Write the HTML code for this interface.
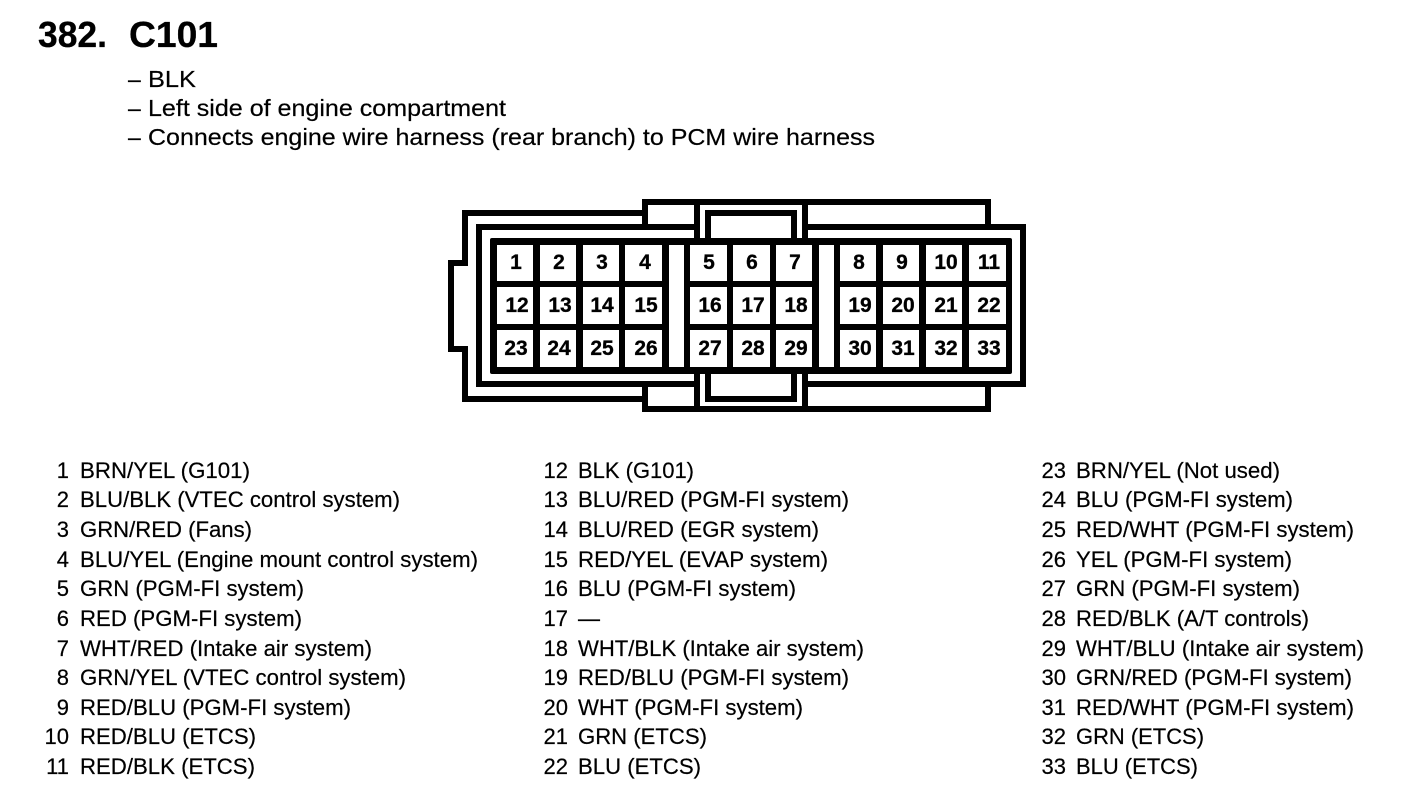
<!DOCTYPE html>
<html><head><meta charset="utf-8"><style>
html,body{margin:0;padding:0;background:#fff}
svg{display:block}
text{font-family:"Liberation Sans",sans-serif;fill:#000;stroke:#000;stroke-width:.2px}
.t{font-size:22px}
.n{font-size:22px;text-anchor:end}
.c{font-size:21px;font-weight:bold;text-anchor:middle;stroke-width:.3px}
.h{font-size:36px;font-weight:bold;stroke-width:.3px}
.s{font-size:23px}
</style></head><body>
<svg width="1408" height="798" viewBox="0 0 1408 798" xmlns="http://www.w3.org/2000/svg">
<rect width="1408" height="798" fill="#fff"/>
<text class="h" x="38" y="47" textLength="69" lengthAdjust="spacingAndGlyphs">382.</text>
<text class="h" x="129" y="47" textLength="89" lengthAdjust="spacingAndGlyphs">C101</text>
<text class="s" x="128" y="87">–</text><text class="s" x="148" y="87" textLength="48" lengthAdjust="spacingAndGlyphs">BLK</text>
<text class="s" x="128" y="116">–</text><text class="s" x="148" y="116" textLength="358" lengthAdjust="spacingAndGlyphs">Left side of engine compartment</text>
<text class="s" x="128" y="145">–</text><text class="s" x="148" y="145" textLength="727" lengthAdjust="spacingAndGlyphs">Connects engine wire harness (rear branch) to PCM wire harness</text>

<!-- connector outlines -->
<g fill="none" stroke="#000" stroke-width="6" stroke-linejoin="miter">
<path d="M645 213H465V263H451V349H465V399H645"/>
<path d="M697 227H479V384H697"/>
<path d="M805 227H1023V384H805"/>
<path d="M645 230V202H988V227"/>
<path d="M645 381V409H988V384"/>
<path d="M697 202V241M805 202V241M697 370V409M805 370V409"/>
<path d="M708 241V213H794V241"/>
<path d="M708 370V399H794V370"/>
</g>
<rect x="490" y="238" width="522" height="136" rx="2" fill="#000" style="stroke:none"/>
<g fill="#fff">
<rect x="497" y="245" width="36" height="36"/><rect x="540" y="245" width="36" height="36"/><rect x="583" y="245" width="36" height="36"/><rect x="625" y="245" width="37" height="36"/>
<rect x="690" y="245" width="37" height="36"/><rect x="733" y="245" width="37" height="36"/><rect x="776" y="245" width="36" height="36"/>
<rect x="840" y="245" width="36" height="36"/><rect x="883" y="245" width="36" height="36"/><rect x="926" y="245" width="36" height="36"/><rect x="969" y="245" width="37" height="36"/>
<rect x="497" y="287" width="36" height="37"/><rect x="540" y="287" width="36" height="37"/><rect x="583" y="287" width="36" height="37"/><rect x="625" y="287" width="37" height="37"/>
<rect x="690" y="287" width="37" height="37"/><rect x="733" y="287" width="37" height="37"/><rect x="776" y="287" width="36" height="37"/>
<rect x="840" y="287" width="36" height="37"/><rect x="883" y="287" width="36" height="37"/><rect x="926" y="287" width="36" height="37"/><rect x="969" y="287" width="37" height="37"/>
<rect x="497" y="330" width="36" height="37"/><rect x="540" y="330" width="36" height="37"/><rect x="583" y="330" width="36" height="37"/><rect x="625" y="330" width="37" height="37"/>
<rect x="690" y="330" width="37" height="37"/><rect x="733" y="330" width="37" height="37"/><rect x="776" y="330" width="36" height="37"/>
<rect x="840" y="330" width="36" height="37"/><rect x="883" y="330" width="36" height="37"/><rect x="926" y="330" width="36" height="37"/><rect x="969" y="330" width="37" height="37"/>
<rect x="669" y="245" width="15" height="122"/><rect x="819" y="245" width="15" height="122"/>
</g>
<g>
<text class="c" x="516" y="269">1</text><text class="c" x="559" y="269">2</text><text class="c" x="602" y="269">3</text><text class="c" x="645" y="269">4</text><text class="c" x="709" y="269">5</text><text class="c" x="752" y="269">6</text><text class="c" x="795" y="269">7</text><text class="c" x="859" y="269">8</text><text class="c" x="902" y="269">9</text><text class="c" x="946" y="269">10</text><text class="c" x="989" y="269">11</text>
<text class="c" x="517" y="312">12</text><text class="c" x="560" y="312">13</text><text class="c" x="602" y="312">14</text><text class="c" x="646" y="312">15</text><text class="c" x="710" y="312">16</text><text class="c" x="753" y="312">17</text><text class="c" x="796" y="312">18</text><text class="c" x="860" y="312">19</text><text class="c" x="903" y="312">20</text><text class="c" x="946" y="312">21</text><text class="c" x="989" y="312">22</text>
<text class="c" x="516" y="355">23</text><text class="c" x="559" y="355">24</text><text class="c" x="602" y="355">25</text><text class="c" x="646" y="355">26</text><text class="c" x="710" y="355">27</text><text class="c" x="753" y="355">28</text><text class="c" x="796" y="355">29</text><text class="c" x="860" y="355">30</text><text class="c" x="903" y="355">31</text><text class="c" x="946" y="355">32</text><text class="c" x="989" y="355">33</text>
</g>

<!-- column 1 -->
<text class="n" x="69" y="478">1</text><text class="t" x="80" y="478" textLength="170" lengthAdjust="spacingAndGlyphs">BRN/YEL (G101)</text>
<text class="n" x="69" y="507">2</text><text class="t" x="80" y="507" textLength="320" lengthAdjust="spacingAndGlyphs">BLU/BLK (VTEC control system)</text>
<text class="n" x="69" y="537">3</text><text class="t" x="80" y="537" textLength="172" lengthAdjust="spacingAndGlyphs">GRN/RED (Fans)</text>
<text class="n" x="69" y="567">4</text><text class="t" x="80" y="567" textLength="398" lengthAdjust="spacingAndGlyphs">BLU/YEL (Engine mount control system)</text>
<text class="n" x="69" y="596">5</text><text class="t" x="80" y="596" textLength="224" lengthAdjust="spacingAndGlyphs">GRN (PGM-FI system)</text>
<text class="n" x="69" y="626">6</text><text class="t" x="80" y="626" textLength="222" lengthAdjust="spacingAndGlyphs">RED (PGM-FI system)</text>
<text class="n" x="69" y="656">7</text><text class="t" x="80" y="656" textLength="292" lengthAdjust="spacingAndGlyphs">WHT/RED (Intake air system)</text>
<text class="n" x="69" y="685">8</text><text class="t" x="80" y="685" textLength="326" lengthAdjust="spacingAndGlyphs">GRN/YEL (VTEC control system)</text>
<text class="n" x="69" y="715">9</text><text class="t" x="80" y="715" textLength="271" lengthAdjust="spacingAndGlyphs">RED/BLU (PGM-FI system)</text>
<text class="n" x="69" y="744">10</text><text class="t" x="80" y="744" textLength="176" lengthAdjust="spacingAndGlyphs">RED/BLU (ETCS)</text>
<text class="n" x="69" y="774">11</text><text class="t" x="80" y="774" textLength="175" lengthAdjust="spacingAndGlyphs">RED/BLK (ETCS)</text>

<!-- column 2 -->
<text class="n" x="568" y="478">12</text><text class="t" x="578" y="478" textLength="116" lengthAdjust="spacingAndGlyphs">BLK (G101)</text>
<text class="n" x="568" y="507">13</text><text class="t" x="578" y="507" textLength="271" lengthAdjust="spacingAndGlyphs">BLU/RED (PGM-FI system)</text>
<text class="n" x="568" y="537">14</text><text class="t" x="578" y="537" textLength="241" lengthAdjust="spacingAndGlyphs">BLU/RED (EGR system)</text>
<text class="n" x="568" y="567">15</text><text class="t" x="578" y="567" textLength="250" lengthAdjust="spacingAndGlyphs">RED/YEL (EVAP system)</text>
<text class="n" x="568" y="596">16</text><text class="t" x="578" y="596" textLength="218" lengthAdjust="spacingAndGlyphs">BLU (PGM-FI system)</text>
<text class="n" x="568" y="626">17</text><text class="t" x="578" y="626">—</text>
<text class="n" x="568" y="656">18</text><text class="t" x="578" y="656" textLength="286" lengthAdjust="spacingAndGlyphs">WHT/BLK (Intake air system)</text>
<text class="n" x="568" y="685">19</text><text class="t" x="578" y="685" textLength="271" lengthAdjust="spacingAndGlyphs">RED/BLU (PGM-FI system)</text>
<text class="n" x="568" y="715">20</text><text class="t" x="578" y="715" textLength="225" lengthAdjust="spacingAndGlyphs">WHT (PGM-FI system)</text>
<text class="n" x="568" y="744">21</text><text class="t" x="578" y="744" textLength="129" lengthAdjust="spacingAndGlyphs">GRN (ETCS)</text>
<text class="n" x="568" y="774">22</text><text class="t" x="578" y="774" textLength="123" lengthAdjust="spacingAndGlyphs">BLU (ETCS)</text>

<!-- column 3 -->
<text class="n" x="1066" y="478">23</text><text class="t" x="1076" y="478" textLength="204" lengthAdjust="spacingAndGlyphs">BRN/YEL (Not used)</text>
<text class="n" x="1066" y="507">24</text><text class="t" x="1076" y="507" textLength="217" lengthAdjust="spacingAndGlyphs">BLU (PGM-FI system)</text>
<text class="n" x="1066" y="537">25</text><text class="t" x="1076" y="537" textLength="278" lengthAdjust="spacingAndGlyphs">RED/WHT (PGM-FI system)</text>
<text class="n" x="1066" y="567">26</text><text class="t" x="1076" y="567" textLength="216" lengthAdjust="spacingAndGlyphs">YEL (PGM-FI system)</text>
<text class="n" x="1066" y="596">27</text><text class="t" x="1076" y="596" textLength="224" lengthAdjust="spacingAndGlyphs">GRN (PGM-FI system)</text>
<text class="n" x="1066" y="626">28</text><text class="t" x="1076" y="626" textLength="233" lengthAdjust="spacingAndGlyphs">RED/BLK (A/T controls)</text>
<text class="n" x="1066" y="656">29</text><text class="t" x="1076" y="656" textLength="288" lengthAdjust="spacingAndGlyphs">WHT/BLU (Intake air system)</text>
<text class="n" x="1066" y="685">30</text><text class="t" x="1076" y="685" textLength="276" lengthAdjust="spacingAndGlyphs">GRN/RED (PGM-FI system)</text>
<text class="n" x="1066" y="715">31</text><text class="t" x="1076" y="715" textLength="278" lengthAdjust="spacingAndGlyphs">RED/WHT (PGM-FI system)</text>
<text class="n" x="1066" y="744">32</text><text class="t" x="1076" y="744" textLength="128" lengthAdjust="spacingAndGlyphs">GRN (ETCS)</text>
<text class="n" x="1066" y="774">33</text><text class="t" x="1076" y="774" textLength="122" lengthAdjust="spacingAndGlyphs">BLU (ETCS)</text>
</svg>
</body></html>
